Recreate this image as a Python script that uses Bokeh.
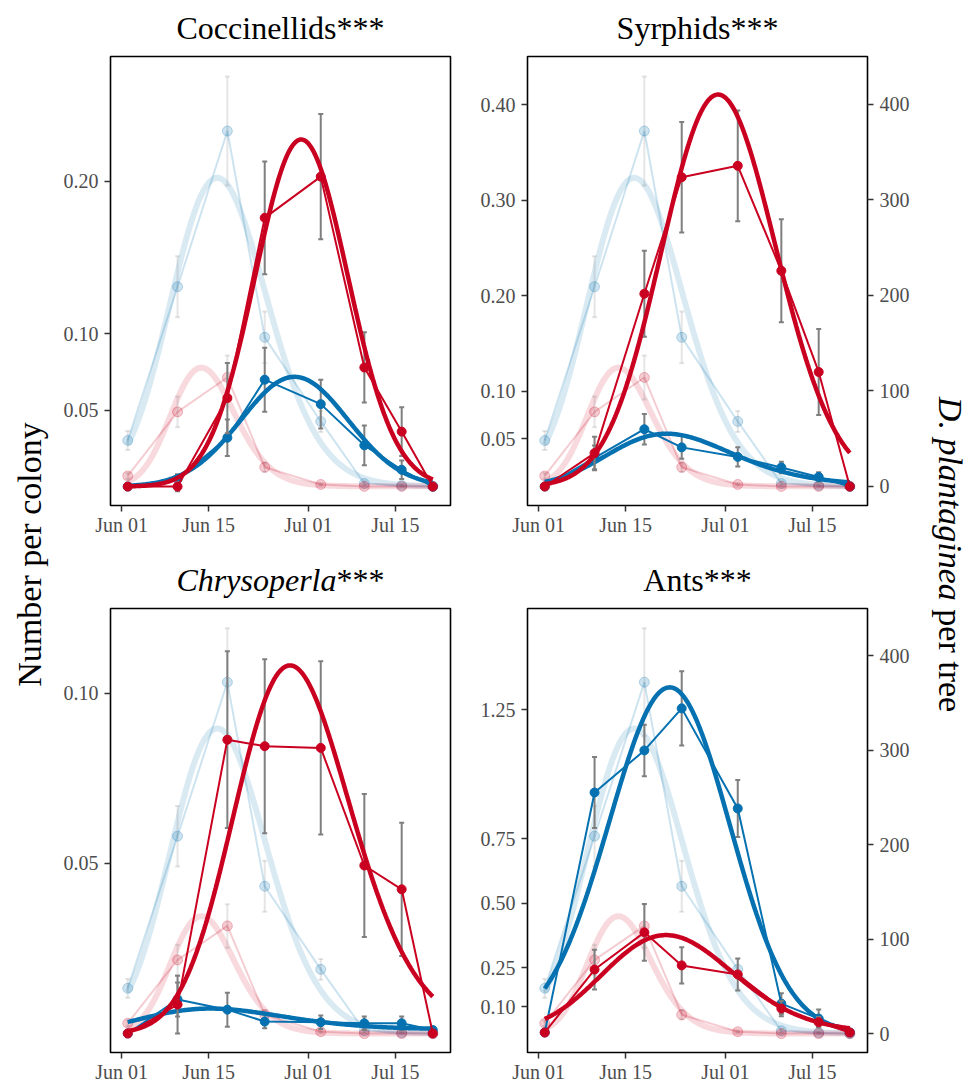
import numpy as np
from bokeh.plotting import figure
from bokeh.models import Range1d, LinearAxis, FixedTicker, Label, PrintfTickFormatter
from bokeh.layouts import row, column
from bokeh.embed import file_html
from bokeh.resources import INLINE

# ---------------- data ----------------
# sampling dates as days after 1 June
sample_days = [1, 9, 17, 23, 32, 39, 45, 50]
x_tick_days = [0, 14, 30, 44]
x_tick_labels = ["Jun 01", "Jun 15", "Jul 01", "Jul 15"]

# D. plantaginea per tree (right axis), two treatments
aphid_blue = [48, 209, 372, 156, 68, 3, 1, 0]
aphid_blue_se = [10, 32, 57, 27, 11, 2, 1, 0]
aphid_blue_fit = [45, 218, 318, 200, 50, 7, 1.5, 0.5]
aphid_blue_peak = (15.2, 328)
aphid_red = [11, 78, 114, 20, 2, 0, 0, 0]
aphid_red_se = [3, 16, 23, 5, 1, 0, 0, 0]
aphid_red_fit = [7, 77, 105, 17, 1, 0.1, 0.05, 0.02]
aphid_red_peak = (13.7, 126)

# Coccinellids per colony
coc_red = [0, 0, 0.058, 0.176, 0.203, 0.078, 0.036, 0]
coc_red_se = [0, 0.003, 0.023, 0.037, 0.041, 0.023, 0.016, 0]
coc_red_fit = [0.0003, 0.0024, 0.057, 0.172, 0.205, 0.080, 0.024, 0.006]
coc_red_peak = (28.3, 0.239)
coc_blue = [0, 0.005, 0.032, 0.070, 0.054, 0.027, 0.011, 0]
coc_blue_se = [0, 0.003, 0.012, 0.021, 0.016, 0.013, 0.006, 0]
coc_blue_fit = [0.001, 0.004, 0.031, 0.066, 0.061, 0.029, 0.010, 0.003]
coc_blue_peak = (27.1, 0.074)

# Syrphids per colony
syr_red = [0, 0.035, 0.202, 0.324, 0.336, 0.226, 0.120, 0]
syr_red_se = [0, 0.017, 0.045, 0.058, 0.058, 0.054, 0.045, 0]
syr_red_fit = [0.002, 0.033, 0.190, 0.318, 0.387, 0.232, 0.107, 0.027]
syr_red_peak = (28.9, 0.401)
syr_blue = [0, 0.030, 0.060, 0.041, 0.031, 0.020, 0.010, 0]
syr_blue_se = [0, 0.013, 0.016, 0.012, 0.010, 0.006, 0.005, 0]
syr_blue_fit = [0.004, 0.028, 0.051, 0.053, 0.032, 0.017, 0.008, 0.004]
syr_blue_peak = (20.1, 0.0543)

# Chrysoperla per colony
chr_red = [0, 0.0085, 0.0864, 0.0845, 0.0840, 0.0494, 0.0424, 0]
chr_red_se = [0, 0.0085, 0.026, 0.0256, 0.0255, 0.021, 0.0196, 0]
chr_red_fit = [0.0009, 0.0097, 0.058, 0.098, 0.096, 0.051, 0.0244, 0.011]
chr_red_peak = (26.6, 0.1078)
chr_blue = [0, 0.010, 0.0070, 0.0035, 0.0033, 0.0030, 0.0030, 0.0010]
chr_blue_se = [0, 0.005, 0.005, 0.002, 0.002, 0.002, 0.002, 0]
chr_blue_fit = [0.0033, 0.0067, 0.0072, 0.0056, 0.0033, 0.0023, 0.0018, 0.0013]
chr_blue_peak = (14.0, 0.0074)

# Ants per colony
ant_red = [0, 0.244, 0.388, 0.260, 0.225, 0.093, 0.040, 0]
ant_red_se = [0, 0.077, 0.11, 0.07, 0.062, 0.03, 0.02, 0]
ant_red_fit = [0.047, 0.214, 0.344, 0.364, 0.228, 0.093, 0.040, 0.016]
ant_red_peak = (19.9, 0.372)
ant_blue = [0, 0.930, 1.093, 1.256, 0.868, 0.112, 0.054, 0]
ant_blue_se = [0, 0.138, 0.10, 0.144, 0.11, 0.04, 0.035, 0]
ant_blue_fit = [0.189, 0.589, 1.17, 1.345, 0.757, 0.124, 0.05, 0.02]
ant_blue_peak = (21.0, 1.376)

panel_titles = ["Coccinellids", "Syrphids", "Chrysoperla", "Ants"]
panel_italic = [False, False, True, False]
signif = ["***", "***", "***", "***"]
left_ticks = [[0.05, 0.10, 0.20], [0.05, 0.10, 0.20, 0.30, 0.40], [0.05, 0.10],
              [0.10, 0.25, 0.50, 0.75, 1.25]]
left_ranges = [(-0.0124, 0.2817), (-0.0199, 0.4505), (-0.0056, 0.125), (-0.0775, 1.643)]
right_ticks = [0, 100, 200, 300, 400]
aphid_range = (-20, 450)
x_range = (-1.77, 52.84)

predators = [
    (coc_blue, coc_blue_se, coc_blue_fit, coc_blue_peak, coc_red, coc_red_se, coc_red_fit, coc_red_peak),
    (syr_blue, syr_blue_se, syr_blue_fit, syr_blue_peak, syr_red, syr_red_se, syr_red_fit, syr_red_peak),
    (chr_blue, chr_blue_se, chr_blue_fit, chr_blue_peak, chr_red, chr_red_se, chr_red_fit, chr_red_peak),
    (ant_blue, ant_blue_se, ant_blue_fit, ant_blue_peak, ant_red, ant_red_se, ant_red_fit, ant_red_peak),
]

# ---------------- style ----------------
BLUE = "#0571B0"
RED = "#CA0020"
GREY = "#7F7F7F"
FONT = "Liberation Serif"
TICK_FS = "20px"
TITLE_FS = 32
AXT_FS = 34


def smooth_curve(fit_vals, peak):
    """log-cubic smoother through the fitted values read at the sampling dates"""
    t = np.append(np.array(sample_days, float), peak[0])
    f = np.append(np.array(fit_vals, float), peak[1])
    w = f / peak[1] + 0.02
    tc = (t - 25.0) / 25.0
    X = np.vander(tc, 4)
    sw = np.sqrt(w)
    beta, *_ = np.linalg.lstsq(X * sw[:, None], np.log(f) * sw, rcond=None)
    tg = np.linspace(sample_days[0], sample_days[-1], 240)
    yg = np.exp(np.vander((tg - 25.0) / 25.0, 4) @ beta)
    return tg, yg


def errorbars(p, y, se, alpha, yr):
    xs = [a for a, s in zip(sample_days, se) if s > 0]
    lo = [b - s for b, s in zip(y, se) if s > 0]
    hi = [b + s for b, s in zip(y, se) if s > 0]
    p.segment(xs, lo, xs, hi, line_color=GREY, line_width=2, line_alpha=alpha, y_range_name=yr)
    p.scatter(xs + xs, lo + hi, marker="dash", size=5, line_color=GREY, line_width=2,
              line_alpha=alpha, y_range_name=yr)


def faint_series(p, y, se, fit, peak, color):
    tg, yg = smooth_curve(fit, peak)
    p.line(tg, yg, line_color=color, line_width=6, line_alpha=0.15, y_range_name="aphid")
    errorbars(p, y, se, 0.2, "aphid")
    p.line(sample_days, y, line_color=color, line_width=2, line_alpha=0.2, y_range_name="aphid")
    p.scatter(sample_days, y, size=10, fill_color=color, fill_alpha=0.2, line_color=color,
              line_alpha=0.25, y_range_name="aphid")


def bold_series(p, y, se, fit, peak, color):
    errorbars(p, y, se, 1.0, "default")
    p.line(sample_days, y, line_color=color, line_width=2)
    p.scatter(sample_days, y, size=9, fill_color=color, line_color=color)
    tg, yg = smooth_curve(fit, peak)
    p.line(tg, yg, line_color=color, line_width=4.5)


def style_axis(ax, standoff):
    ax.axis_line_color = None
    ax.major_tick_line_color = "#333333"
    ax.major_tick_line_width = 1.5
    ax.major_tick_out = 6
    ax.major_tick_in = 0
    ax.minor_tick_line_color = None
    ax.major_label_text_font = FONT
    ax.major_label_text_font_size = TICK_FS
    ax.major_label_text_color = "#4d4d4d"
    ax.major_label_standoff = standoff


col_geom = [dict(width=410, bl=50, br=20), dict(width=443, bl=57, br=46)]
row_geom = [dict(height=484, bb=32), dict(height=480, bb=34)]


def make_panel(i):
    r, c = divmod(i, 2)
    cg, rg = col_geom[c], row_geom[r]
    p = figure(width=cg["width"], height=rg["height"], output_backend="svg", toolbar_location=None,
               x_range=Range1d(*x_range), y_range=Range1d(*left_ranges[i]),
               min_border_left=cg["bl"], min_border_right=cg["br"], min_border_top=2,
               min_border_bottom=rg["bb"], title=None)
    p.extra_y_ranges = {"aphid": Range1d(*aphid_range)}
    p.xgrid.visible = False
    p.ygrid.visible = False
    p.outline_line_color = "black"
    p.outline_line_width = 1.6
    p.outline_line_alpha = 1.0
    p.background_fill_color = "white"

    p.xaxis.ticker = FixedTicker(ticks=x_tick_days)
    p.xaxis.major_label_overrides = {d: l for d, l in zip(x_tick_days, x_tick_labels)}
    p.yaxis.ticker = FixedTicker(ticks=left_ticks[i])
    p.yaxis.formatter = PrintfTickFormatter(format="%.2f")
    if c == 1:
        ra = LinearAxis(y_range_name="aphid", ticker=FixedTicker(ticks=right_ticks))
        p.add_layout(ra, "right")
    for ax in p.xaxis:
        style_axis(ax, 2)
    for ax in p.yaxis:
        style_axis(ax, 6)

    faint_series(p, aphid_blue, aphid_blue_se, aphid_blue_fit, aphid_blue_peak, BLUE)
    faint_series(p, aphid_red, aphid_red_se, aphid_red_fit, aphid_red_peak, RED)
    b, bse, bfit, bpk, rd, rse, rfit, rpk = predators[i]
    bold_series(p, b, bse, bfit, bpk, BLUE)
    bold_series(p, rd, rse, rfit, rpk, RED)
    return p


def text_fig(w, h):
    f = figure(width=w, height=h, x_range=Range1d(0, w), y_range=Range1d(0, h),
               output_backend="svg", toolbar_location=None, min_border=0,
               x_axis_location=None, y_axis_location=None, title=None)
    f.grid.visible = False
    f.outline_line_color = None
    return f


TITLE_Y = 27


def title_fig(i, h):
    r, c = divmod(i, 2)
    w = col_geom[c]["width"]
    f = text_fig(w, h)
    cx = col_geom[c]["bl"] + (w - col_geom[c]["bl"] - col_geom[c]["br"]) / 2.0
    if panel_italic[i]:
        w1 = 5.0 * TITLE_FS
        total = w1 + 1.5 * TITLE_FS
        jx = cx - total / 2.0 + w1
        f.add_layout(Label(x=jx, y=TITLE_Y, text=panel_titles[i], text_font=FONT,
                           text_font_size=f"{TITLE_FS}px", text_font_style="italic",
                           text_align="right", text_baseline="alphabetic", text_color="black"))
        f.add_layout(Label(x=jx, y=TITLE_Y, text=signif[i], text_font=FONT,
                           text_font_size=f"{TITLE_FS}px", text_align="left",
                           text_baseline="alphabetic", text_color="black"))
    else:
        f.add_layout(Label(x=cx, y=TITLE_Y, text=panel_titles[i] + signif[i], text_font=FONT,
                           text_font_size=f"{TITLE_FS}px", text_align="center",
                           text_baseline="alphabetic", text_color="black"))
    return f


TOTAL_H = 54 + 484 + 68 + 480
panels = [make_panel(i) for i in range(4)]
titles = [title_fig(0, 54), title_fig(1, 54), title_fig(2, 68), title_fig(3, 68)]

center_y = TOTAL_H - 554

left_lab = text_fig(60, TOTAL_H)
left_lab.add_layout(Label(x=29, y=center_y, text="Number per colony", angle=np.pi / 2,
                          text_font=FONT, text_font_size=f"{AXT_FS}px", text_align="center",
                          text_baseline="alphabetic", text_color="black"))

right_lab = text_fig(59, TOTAL_H)
fs = AXT_FS
w_it = 6.0 * fs
w_rest = 3.276 * fs
junction = center_y + (w_it + w_rest) / 2.0 - w_it
RX = 37
right_lab.add_layout(Label(x=RX, y=junction, text="D. plantaginea", angle=-np.pi / 2,
                           text_font=FONT, text_font_size=f"{fs}px", text_font_style="italic",
                           text_align="right", text_baseline="alphabetic", text_color="black"))
right_lab.add_layout(Label(x=RX, y=junction - 0.25 * fs, text="per tree", angle=-np.pi / 2,
                           text_font=FONT, text_font_size=f"{fs}px",
                           text_align="left", text_baseline="alphabetic", text_color="black"))

grid = column(row(titles[0], titles[1]), row(panels[0], panels[1]),
              row(titles[2], titles[3]), row(panels[2], panels[3]))
layout = row(left_lab, grid, right_lab)

open("out.html", "w").write(file_html(layout, INLINE))
